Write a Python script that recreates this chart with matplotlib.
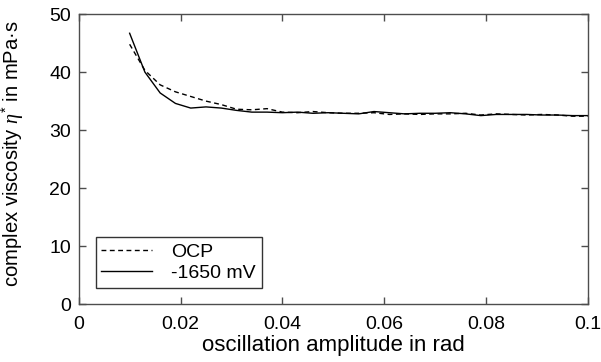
import matplotlib
matplotlib.use("Agg")
import matplotlib.pyplot as plt

plt.rcParams['font.family'] = ['Liberation Sans', 'DejaVu Sans']
plt.rcParams['mathtext.fontset'] = 'custom'
plt.rcParams['mathtext.it'] = 'Liberation Serif:italic'
plt.rcParams['mathtext.rm'] = 'Liberation Sans'

"""data read off the picture"""
amplitude = [0.010, 0.013, 0.016, 0.019, 0.022, 0.025, 0.028, 0.031, 0.034, 0.037,
             0.040, 0.043, 0.046, 0.049, 0.052, 0.055, 0.058, 0.061, 0.064, 0.067,
             0.070, 0.073, 0.076, 0.079, 0.082, 0.085, 0.088, 0.091, 0.094, 0.097, 0.100]

eta_ocp = [44.8, 40.3, 37.8, 36.6, 35.8, 35.0, 34.4, 33.6, 33.5, 33.7,
           33.1, 33.0, 33.2, 33.0, 32.9, 32.9, 33.0, 32.7, 32.8, 32.7,
           32.8, 32.8, 32.9, 32.6, 32.8, 32.7, 32.6, 32.7, 32.6, 32.4, 32.4]

eta_1650 = [46.7, 40.0, 36.4, 34.6, 33.8, 34.0, 33.8, 33.4, 33.1, 33.1,
            33.0, 33.1, 32.9, 33.0, 32.9, 32.8, 33.2, 33.0, 32.8, 32.9,
            32.9, 33.0, 32.8, 32.5, 32.7, 32.7, 32.7, 32.6, 32.6, 32.5, 32.5]

x_ticks = [0, 0.02, 0.04, 0.06, 0.08, 0.1]
x_tick_labels = ["0", "0.02", "0.04", "0.06", "0.08", "0.1"]
y_ticks = [0, 10, 20, 30, 40, 50]

fs_tick = 14    # tick labels and legend (pt)
fs_label = 16   # x axis label (pt)

"""plotting graph"""
fig = plt.figure(figsize=(6.01, 3.62), dpi=100)
ax = fig.add_axes([0.131, 0.160, 0.847, 0.801])

ax.plot(amplitude, eta_ocp, color="black", linestyle="--", linewidth=1.0,
        dashes=(3.5, 2.5), label="OCP")
ax.plot(amplitude, eta_1650, color="black", linestyle="-", linewidth=1.0,
        label="-1650 mV")

ax.set_xlim(0, 0.1)
ax.set_ylim(0, 50)
ax.set_xticks(x_ticks)
ax.set_xticklabels(x_tick_labels)
ax.set_yticks(y_ticks)

for side in ax.spines:
    ax.spines[side].set_color("#4d4d4d")
    ax.spines[side].set_linewidth(1.0)
ax.tick_params(direction="in", top=True, right=True, length=5, width=1.0,
               color="#4d4d4d", labelsize=fs_tick, labelcolor="black")
ax.tick_params(axis="x", pad=8.5)
ax.tick_params(axis="y", pad=5.5)

ax.set_xlabel("oscillation amplitude in rad", fontsize=fs_label)
ax.set_ylabel(r"complex viscosity $\eta^{*}$ in mPa·s", fontsize=14.6)
ax.xaxis.set_label_coords(0.5, -0.107)
ax.yaxis.set_label_coords(-0.104, 0.52)

leg = ax.legend(loc="lower left", bbox_to_anchor=(0.033, 0.055), fontsize=fs_tick,
                frameon=True, fancybox=False, handlelength=2.6, handletextpad=1.0,
                borderaxespad=0, borderpad=0.3, labelspacing=0.2)
leg.get_frame().set_edgecolor("black")
leg.get_frame().set_linewidth(1.0)

fig.savefig("out.png", dpi=100)
